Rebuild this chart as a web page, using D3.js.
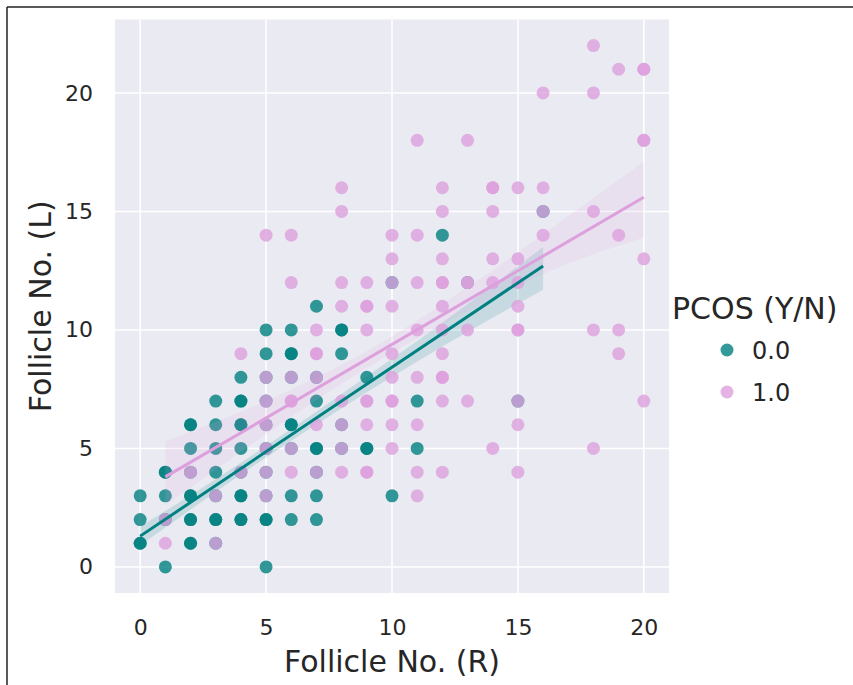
<!DOCTYPE html>
<html>
<head>
<meta charset="utf-8">
<script src="https://cdn.jsdelivr.net/npm/d3@7"></script>
<style>
  body { margin: 0; background: #fff; }
  text { font-family: "DejaVu Sans", sans-serif; fill: #262626; }
</style>
</head>
<body>
<script>
const w = 853
const h = 685

// Follicle No. (R) / (L) for PCOS = 0 (teal); repeated pairs are stacked points
const noPcosX = [0,0,0,0, 1,1,1,1,1, 2,2,2,2,2,2,2,2,2,2, 3,3,3,3,3,3,3,3,
  4,4,4,4,4,4,4,4,4,4,4, 5,5,5,5,5,5,5,5,5,5,5, 6,6,6,6,6,6,6,6,6,
  7,7,7,7,7,7,7,7, 8,8,8,8,8, 9,9,9, 10,10, 11,11, 12, 13, 15, 16]
const noPcosY = [3,2,1,1, 4,4,3,2,0, 6,6,5,4,3,3,2,2,1,1, 7,6,5,4,3,2,2,1,
  8,7,7,6,6,5,4,3,3,2,2, 10,9,8,7,6,5,4,3,2,2,0, 10,9,9,8,6,6,5,3,2,
  11,8,7,5,5,4,3,2, 10,10,9,6,5, 8,5,5, 12,3, 7,5, 14, 12, 7, 15]

// PCOS = 1 (plum)
const pcosX = [1,1, 2, 3,3, 4,4, 5,5,5,5,5,5,5, 6,6,6,6,6,6,6,
  7,7,7,7,7,7, 8,8,8,8,8,8,8,8, 9,9,9,9,9,9,9,9,9,
  10,10,10,10,10,10,10,10,10,10, 11,11,11,11,11,11,11,11,
  12,12,12,12,12,12,12,12,12,12,12,12, 13,13,13,13,13, 14,14,14,14,14,14,
  15,15,15,15,15,15,15,15,15, 16,16,16,16, 18,18,18,18,18, 19,19,19,19,
  20,20,20,20,20,20]
const pcosY = [2,1, 4, 3,1, 9,4, 14,8,7,6,5,4,3, 14,12,8,7,7,5,4,
  10,9,9,8,6,4, 16,15,12,11,7,6,5,4, 12,11,11,10,7,7,6,4,4,
  14,13,12,11,9,8,7,7,6,5, 18,14,12,10,8,6,4,3,
  16,15,13,12,12,11,10,9,8,8,7,4, 18,12,12,10,7, 16,16,15,13,12,5,
  16,13,12,11,10,10,7,6,4, 20,16,15,14, 22,20,15,10,5, 21,14,10,9,
  21,21,18,18,13,7]

// regression lines and confidence bands
const noPcosFitX = [0, 16]
const noPcosFitY = [1.3, 12.7]
const noPcosBandX = [0, 4, 8, 12, 16]
const noPcosBandLo = [0.9, 3.9, 6.7, 9.3, 11.7]
const noPcosBandHi = [1.7, 4.4, 7.3, 10.3, 13.5]

const pcosFitX = [1, 20]
const pcosFitY = [3.8, 15.6]
const pcosBandX = [1, 5, 9, 13, 17, 20]
const pcosBandLo = [2.6, 5.6, 8.4, 10.8, 12.8, 13.9]
const pcosBandHi = [5.3, 7.0, 9.1, 11.8, 14.8, 17.1]

const xTicks = [0, 5, 10, 15, 20]
const yTicks = [0, 5, 10, 15, 20]
const legendLabels = ['0.0', '1.0']

const teal = '#008080'
const plum = '#dda0dd'

const plot = {left: 115, right: 669, top: 19.5, bottom: 593}

const svg = d3.select('body').append('svg')
    .attr('width', w)
    .attr('height', h)

// screenshot frame
svg.append('line').attr('x1', 7).attr('x2', w).attr('y1', 7).attr('y2', 7)
    .attr('stroke', '#222').attr('stroke-width', 1.5)
svg.append('line').attr('x1', 7).attr('x2', 7).attr('y1', 7).attr('y2', h)
    .attr('stroke', '#222').attr('stroke-width', 1.5)

const xScale = d3.scaleLinear().domain([-1, 21]).range([plot.left, plot.right])
const yScale = d3.scaleLinear().domain([-1.1, 23.1]).range([plot.bottom, plot.top])

svg.append('rect')
    .attr('x', plot.left).attr('y', plot.top)
    .attr('width', plot.right - plot.left).attr('height', plot.bottom - plot.top)
    .attr('fill', '#eaeaf2')

// grid
svg.append('g').selectAll('line').data(xTicks).join('line')
    .attr('x1', d => xScale(d)).attr('x2', d => xScale(d))
    .attr('y1', plot.top).attr('y2', plot.bottom)
    .attr('stroke', '#fff').attr('stroke-width', 1.6)
svg.append('g').selectAll('line').data(yTicks).join('line')
    .attr('y1', d => yScale(d)).attr('y2', d => yScale(d))
    .attr('x1', plot.left).attr('x2', plot.right)
    .attr('stroke', '#fff').attr('stroke-width', 1.6)

// axes without lines, just labels
const xAxis = svg.append('g')
    .attr('transform', `translate(0,${plot.bottom})`)
    .call(d3.axisBottom(xScale).tickValues(xTicks).tickSize(0).tickPadding(26))
const yAxis = svg.append('g')
    .attr('transform', `translate(${plot.left},0)`)
    .call(d3.axisLeft(yScale).tickValues(yTicks).tickSize(0).tickPadding(22))
;[xAxis, yAxis].forEach(a => {
    a.select('.domain').remove()
    a.selectAll('text').attr('font-size', 22).attr('fill', '#262626')
        .attr('font-family', '"DejaVu Sans", sans-serif')
})

svg.append('text')
    .attr('x', (plot.left + plot.right) / 2).attr('y', 672)
    .attr('text-anchor', 'middle').attr('font-size', 30)
    .text('Follicle No. (R)')
svg.append('text')
    .attr('transform', `translate(51,${(plot.top + plot.bottom) / 2}) rotate(-90)`)
    .attr('text-anchor', 'middle').attr('font-size', 30)
    .text('Follicle No. (L)')

svg.append('clipPath').attr('id', 'clip').append('rect')
    .attr('x', plot.left).attr('y', plot.top)
    .attr('width', plot.right - plot.left).attr('height', plot.bottom - plot.top)

const g = svg.append('g').attr('clip-path', 'url(#clip)')

function drawGroup (xs, ys, color, bx, lo, hi) {
    g.append('g').selectAll('circle').data(xs).join('circle')
        .attr('cx', d => xScale(d))
        .attr('cy', (d, i) => yScale(ys[i]))
        .attr('r', 6.5)
        .attr('fill', color)
        .attr('fill-opacity', 0.8)

    const band = d3.area()
        .x(d => xScale(d))
        .y0((d, i) => yScale(lo[i]))
        .y1((d, i) => yScale(hi[i]))
        .curve(d3.curveMonotoneX)
    g.append('path')
        .attr('d', band(bx))
        .attr('fill', color)
        .attr('fill-opacity', 0.15)
}

drawGroup(noPcosX, noPcosY, teal, noPcosBandX, noPcosBandLo, noPcosBandHi)
drawGroup(pcosX, pcosY, plum, pcosBandX, pcosBandLo, pcosBandHi)

const lineFun = d3.line()
    .x(d => xScale(d[0]))
    .y(d => yScale(d[1]))

g.append('path')
    .attr('d', lineFun(d3.zip(noPcosFitX, noPcosFitY)))
    .attr('stroke', teal).attr('stroke-width', 3).attr('fill', 'none')
g.append('path')
    .attr('d', lineFun(d3.zip(pcosFitX, pcosFitY)))
    .attr('stroke', plum).attr('stroke-width', 3).attr('fill', 'none')

// legend
const legend = svg.append('g')
legend.append('text')
    .attr('x', 672).attr('y', 319)
    .attr('font-size', 30)
    .text('PCOS (Y/N)')
const items = legend.selectAll('g.item').data(legendLabels).join('g')
    .attr('class', 'item')
    .attr('transform', (d, i) => `translate(0,${350 + i * 42})`)
items.append('circle')
    .attr('cx', 727).attr('cy', 0).attr('r', 6.5)
    .attr('fill', (d, i) => i === 0 ? teal : plum)
    .attr('fill-opacity', 0.8)
items.append('text')
    .attr('x', 752).attr('y', 8.5)
    .attr('font-size', 24)
    .text(d => d)
</script>
</body>
</html>
